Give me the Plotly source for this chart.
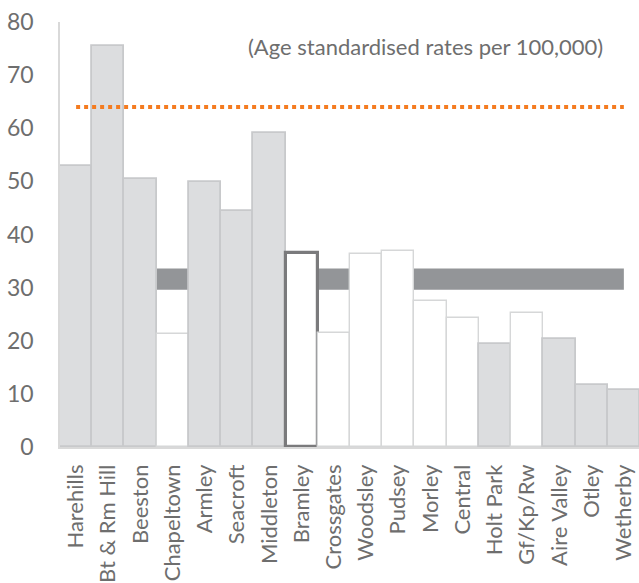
import plotly.graph_objects as go

# Wards and their age standardised rates per 100,000
wards = ["Harehills", "Bt & Rm Hill", "Beeston", "Chapeltown", "Armley", "Seacroft",
         "Middleton", "Bramley", "Crossgates", "Woodsley", "Pudsey", "Morley",
         "Central", "Holt Park", "Gf/Kp/Rw", "Aire Valley", "Otley", "Wetherby"]
rates = [52.9, 75.4, 50.5, 21.3, 49.9, 44.5, 59.1, 36.6, 21.4, 36.4, 36.9, 27.5,
         24.2, 19.4, 25.3, 20.4, 11.6, 10.8]
# 'sig' = significantly different (grey fill), 'ns' = not significant, 'focus' = highlighted ward
status = ["sig", "sig", "sig", "ns", "sig", "sig", "sig", "focus", "ns", "ns", "ns", "ns",
          "ns", "sig", "ns", "sig", "sig", "sig"]

# Reference levels
city_band_low = 29.6
city_band_high = 33.6
upper_reference = 64.0

y_ticks = [0, 10, 20, 30, 40, 50, 60, 70, 80]

fill_map = {"sig": "#DCDDDF", "ns": "#FFFFFF", "focus": "#FFFFFF"}
edge_map = {"sig": "#C8C9CB", "ns": "#D6D7D8", "focus": "#7A7A7C"}
edge_w_map = {"sig": 1.8, "ns": 1.4, "focus": 3.2}

text_grey = "#6E6E6E"
font_family = "Lato, 'Open Sans', sans-serif"

fig = go.Figure()

fig.add_trace(go.Bar(
    x=wards,
    y=rates,
    marker=dict(
        color=[fill_map[s] for s in status],
        line=dict(color=[edge_map[s] for s in status],
                  width=[edge_w_map[s] for s in status]),
    ),
    showlegend=False,
    hoverinfo="x+y",
))

# Dotted reference line spanning first to last ward
fig.add_trace(go.Scatter(
    x=wards,
    y=[upper_reference] * len(wards),
    mode="lines",
    line=dict(color="#F47B20", width=4, dash="4px,4px"),
    showlegend=False,
    hoverinfo="skip",
))

# Grey band behind the bars
fig.add_shape(
    type="rect", xref="x", yref="y",
    x0=0, x1=len(wards) - 1,
    y0=city_band_low, y1=city_band_high,
    fillcolor="#939598", line=dict(width=0), layer="below",
)

fig.add_annotation(
    text="(Age standardised rates per 100,000)",
    xref="paper", yref="y",
    x=0.632, y=75.3,
    showarrow=False,
    font=dict(family=font_family, size=22, color=text_grey),
)

fig.update_layout(
    width=639, height=583,
    margin=dict(l=60, r=0, t=22, b=133),
    paper_bgcolor="white",
    plot_bgcolor="white",
    bargap=0,
    font=dict(family=font_family, color=text_grey),
    xaxis=dict(
        type="category",
        range=[-0.5, 17.47],
        tickangle=-90,
        tickfont=dict(size=22, color=text_grey),
        showline=True, linecolor="#D9D9D9", linewidth=1.5,
        showgrid=False, ticks="", ticklabelstandoff=7,
    ),
    yaxis=dict(
        range=[0, 80],
        tickvals=y_ticks,
        tickfont=dict(size=23, color=text_grey),
        showline=True, linecolor="#D9D9D9", linewidth=1.5,
        showgrid=False, zeroline=False, ticks="",
        ticklabelstandoff=20,
    ),
)

fig.write_html("out.html")
